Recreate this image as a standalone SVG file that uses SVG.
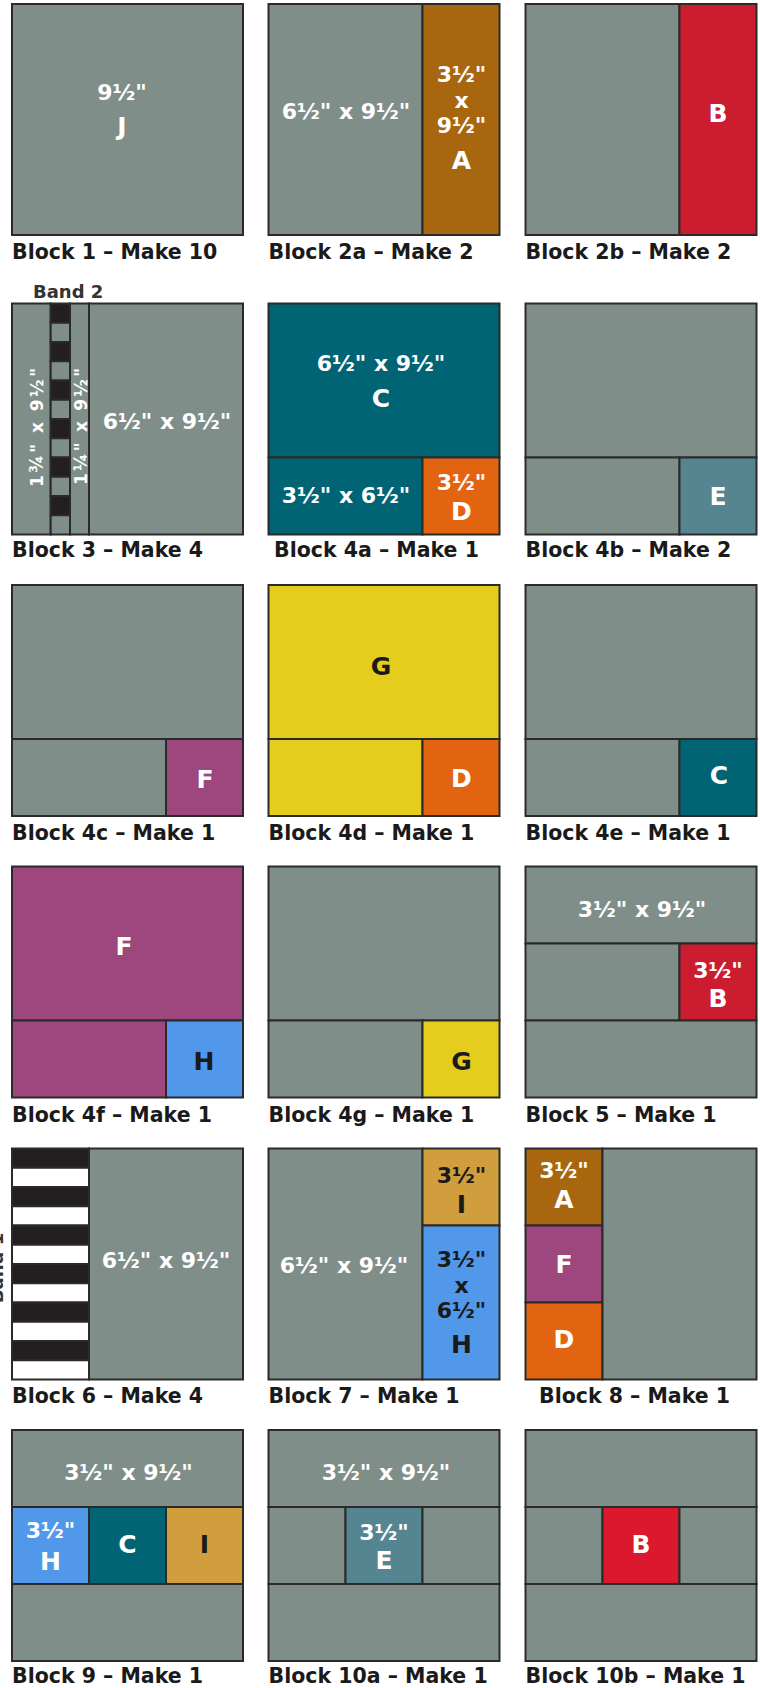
<svg xmlns="http://www.w3.org/2000/svg" width="760" height="1688" viewBox="0 0 760 1688">
<style>
rect{stroke:#2a2a2a;stroke-width:2}
rect.bg{stroke:none;fill:#ffffff}
.g{fill:#808e8a}.a{fill:#a8660f}.b{fill:#cc1c30}.b2{fill:#dc182f}.c{fill:#006474}.d{fill:#e36410}.e{fill:#568592}.f{fill:#9e477e}.y{fill:#e5cd1e}.h{fill:#5197ea}.i{fill:#d09e3d}.k{fill:#231f20}.wh{fill:#ffffff}
text{font-family:"DejaVu Sans","Liberation Sans",sans-serif;font-weight:bold}
.lbl{font-size:20.5px;fill:#1a1a1a}
.t{font-size:22px;fill:#ffffff;text-anchor:middle}
.tk{font-size:22px;fill:#1a1a1a;text-anchor:middle}
.L{font-size:25px;fill:#ffffff;text-anchor:middle}
.Lk{font-size:25px;fill:#1a1a1a;text-anchor:middle}
.r{font-size:17px;fill:#ffffff;text-anchor:middle}
.band{font-size:18px;fill:#333333}
</style>
<defs>
<g id="bandcol">
<rect class="k" x="0" y="0" width="19.3" height="19.25"/><rect class="g" x="0" y="19.25" width="19.3" height="19.25"/>
<rect class="k" x="0" y="38.5" width="19.3" height="19.25"/><rect class="g" x="0" y="57.75" width="19.3" height="19.25"/>
<rect class="k" x="0" y="77" width="19.3" height="19.25"/><rect class="g" x="0" y="96.25" width="19.3" height="19.25"/>
<rect class="k" x="0" y="115.5" width="19.3" height="19.25"/><rect class="g" x="0" y="134.75" width="19.3" height="19.25"/>
<rect class="k" x="0" y="154" width="19.3" height="19.25"/><rect class="g" x="0" y="173.25" width="19.3" height="19.25"/>
<rect class="k" x="0" y="192.5" width="19.3" height="19.25"/><rect class="g" x="0" y="211.75" width="19.3" height="19.25"/>
</g>
<g id="stripes">
<rect class="k" x="0" y="0" width="77" height="19.25"/><rect class="wh" x="0" y="19.25" width="77" height="19.25"/>
<rect class="k" x="0" y="38.5" width="77" height="19.25"/><rect class="wh" x="0" y="57.75" width="77" height="19.25"/>
<rect class="k" x="0" y="77" width="77" height="19.25"/><rect class="wh" x="0" y="96.25" width="77" height="19.25"/>
<rect class="k" x="0" y="115.5" width="77" height="19.25"/><rect class="wh" x="0" y="134.75" width="77" height="19.25"/>
<rect class="k" x="0" y="154" width="77" height="19.25"/><rect class="wh" x="0" y="173.25" width="77" height="19.25"/>
<rect class="k" x="0" y="192.5" width="77" height="19.25"/><rect class="wh" x="0" y="211.75" width="77" height="19.25"/>
</g>
</defs>
<rect class="bg" x="0" y="0" width="760" height="1688"/>

<g id="block1">
<rect class="g" x="12" y="4" width="231" height="231"/>
<text class="t" x="122" y="99.5">9½"</text>
<text class="L" x="122" y="134.5">J</text>
<text class="lbl" x="12" y="259">Block 1 – Make 10</text>
</g>

<g id="block2a">
<rect class="g" x="268.5" y="4" width="154" height="231"/>
<rect class="a" x="422.5" y="4" width="77" height="231"/>
<text class="t" x="346" y="119">6½" x 9½"</text>
<text class="t" x="461.5" y="81.5">3½"</text>
<text class="t" x="461.5" y="108">x</text>
<text class="t" x="461.5" y="133">9½"</text>
<text class="L" x="461.5" y="168.5">A</text>
<text class="lbl" x="268.5" y="259">Block 2a – Make 2</text>
</g>

<g id="block2b">
<rect class="g" x="525.5" y="4" width="154" height="231"/>
<rect class="b" x="679.5" y="4" width="77" height="231"/>
<text class="L" x="718" y="121.5">B</text>
<text class="lbl" x="525.5" y="259">Block 2b – Make 2</text>
</g>

<g id="block3">
<text class="band" x="33" y="298">Band 2</text>
<rect class="g" x="12" y="303.5" width="38.7" height="231"/>
<use href="#bandcol" x="50.7" y="303.5"/>
<rect class="g" x="70" y="303.5" width="19" height="231"/>
<rect class="g" x="89" y="303.5" width="154" height="231"/>
<text class="r" transform="translate(43,427.5) rotate(-90)" textLength="119" lengthAdjust="spacing">1¾" x 9½"</text>
<text class="r" transform="translate(87,426.5) rotate(-90)" textLength="117" lengthAdjust="spacing">1¼" x 9½"</text>
<text class="t" x="167" y="429">6½" x 9½"</text>
<text class="lbl" x="12" y="557">Block 3 – Make 4</text>
</g>

<g id="block4a">
<rect class="c" x="268.5" y="303.5" width="231" height="154"/>
<rect class="c" x="268.5" y="457.5" width="154" height="77"/>
<rect class="d" x="422.5" y="457.5" width="77" height="77"/>
<text class="t" x="381" y="371">6½" x 9½"</text>
<text class="L" x="381" y="406.5">C</text>
<text class="t" x="346" y="503">3½" x 6½"</text>
<text class="t" x="461.5" y="490">3½"</text>
<text class="L" x="461.5" y="520">D</text>
<text class="lbl" x="274" y="557">Block 4a – Make 1</text>
</g>

<g id="block4b">
<rect class="g" x="525.5" y="303.5" width="231" height="154"/>
<rect class="g" x="525.5" y="457.5" width="154" height="77"/>
<rect class="e" x="679.5" y="457.5" width="77" height="77"/>
<text class="L" x="718" y="505">E</text>
<text class="lbl" x="525.5" y="557">Block 4b – Make 2</text>
</g>

<g id="block4c">
<rect class="g" x="12" y="585" width="231" height="154"/>
<rect class="g" x="12" y="739" width="154" height="77"/>
<rect class="f" x="166" y="739" width="77" height="77"/>
<text class="L" x="205" y="788">F</text>
<text class="lbl" x="12" y="840">Block 4c – Make 1</text>
</g>

<g id="block4d">
<rect class="y" x="268.5" y="585" width="231" height="154"/>
<rect class="y" x="268.5" y="739" width="154" height="77"/>
<rect class="d" x="422.5" y="739" width="77" height="77"/>
<text class="Lk" x="381" y="675">G</text>
<text class="L" x="461.5" y="787">D</text>
<text class="lbl" x="268.5" y="840">Block 4d – Make 1</text>
</g>

<g id="block4e">
<rect class="g" x="525.5" y="585" width="231" height="154"/>
<rect class="g" x="525.5" y="739" width="154" height="77"/>
<rect class="c" x="679.5" y="739" width="77" height="77"/>
<text class="L" x="719" y="784">C</text>
<text class="lbl" x="525.5" y="840">Block 4e – Make 1</text>
</g>

<g id="block4f">
<rect class="f" x="12" y="866.5" width="231" height="154"/>
<rect class="f" x="12" y="1020.5" width="154" height="77"/>
<rect class="h" x="166" y="1020.5" width="77" height="77"/>
<text class="L" x="124" y="955">F</text>
<text class="Lk" x="204" y="1070">H</text>
<text class="lbl" x="12" y="1121.5">Block 4f – Make 1</text>
</g>

<g id="block4g">
<rect class="g" x="268.5" y="866.5" width="231" height="154"/>
<rect class="g" x="268.5" y="1020.5" width="154" height="77"/>
<rect class="y" x="422.5" y="1020.5" width="77" height="77"/>
<text class="Lk" x="461.5" y="1070">G</text>
<text class="lbl" x="268.5" y="1121.5">Block 4g – Make 1</text>
</g>

<g id="block5">
<rect class="g" x="525.5" y="866.5" width="231" height="77"/>
<rect class="g" x="525.5" y="943.5" width="154" height="77"/>
<rect class="b" x="679.5" y="943.5" width="77" height="77"/>
<rect class="g" x="525.5" y="1020.5" width="231" height="77"/>
<text class="t" x="642" y="916.5">3½" x 9½"</text>
<text class="t" x="718" y="978">3½"</text>
<text class="L" x="718" y="1006.5">B</text>
<text class="lbl" x="525.5" y="1121.5">Block 5 – Make 1</text>
</g>

<g id="block6">
<text class="band" transform="translate(2.5,1268) rotate(-90)" text-anchor="middle">Band 1</text>
<use href="#stripes" x="12" y="1148.5"/>
<rect class="g" x="89" y="1148.5" width="154" height="231"/>
<text class="t" x="166" y="1268">6½" x 9½"</text>
<text class="lbl" x="12" y="1403">Block 6 – Make 4</text>
</g>

<g id="block7">
<rect class="g" x="268.5" y="1148.5" width="154" height="231"/>
<rect class="i" x="422.5" y="1148.5" width="77" height="77"/>
<rect class="h" x="422.5" y="1225.5" width="77" height="154"/>
<text class="t" x="344" y="1273">6½" x 9½"</text>
<text class="tk" x="461.5" y="1183">3½"</text>
<text class="Lk" x="461.5" y="1213">I</text>
<text class="tk" x="461.5" y="1266.5">3½"</text>
<text class="tk" x="461.5" y="1293">x</text>
<text class="tk" x="461.5" y="1318">6½"</text>
<text class="Lk" x="461.5" y="1353">H</text>
<text class="lbl" x="268.5" y="1403">Block 7 – Make 1</text>
</g>

<g id="block8">
<rect class="a" x="525.5" y="1148.5" width="77" height="77"/>
<rect class="f" x="525.5" y="1225.5" width="77" height="77"/>
<rect class="d" x="525.5" y="1302.5" width="77" height="77"/>
<rect class="g" x="602.5" y="1148.5" width="154" height="231"/>
<text class="t" x="564" y="1178">3½"</text>
<text class="L" x="564" y="1208">A</text>
<text class="L" x="564" y="1273">F</text>
<text class="L" x="564" y="1348">D</text>
<text class="lbl" x="539" y="1403">Block 8 – Make 1</text>
</g>

<g id="block9">
<rect class="g" x="12" y="1430" width="231" height="77"/>
<rect class="h" x="12" y="1507" width="77" height="77"/>
<rect class="c" x="89" y="1507" width="77" height="77"/>
<rect class="i" x="166" y="1507" width="77" height="77"/>
<rect class="g" x="12" y="1584" width="231" height="77"/>
<text class="t" x="128.5" y="1480">3½" x 9½"</text>
<text class="t" x="50.5" y="1538">3½"</text>
<text class="L" x="50.5" y="1570">H</text>
<text class="L" x="127.5" y="1553">C</text>
<text class="Lk" x="204.5" y="1553">I</text>
<text class="lbl" x="12" y="1683">Block 9 – Make 1</text>
</g>

<g id="block10a">
<rect class="g" x="268.5" y="1430" width="231" height="77"/>
<rect class="g" x="268.5" y="1507" width="77" height="77"/>
<rect class="e" x="345.5" y="1507" width="77" height="77"/>
<rect class="g" x="422.5" y="1507" width="77" height="77"/>
<rect class="g" x="268.5" y="1584" width="231" height="77"/>
<text class="t" x="386" y="1480">3½" x 9½"</text>
<text class="t" x="384" y="1540">3½"</text>
<text class="L" x="384" y="1569">E</text>
<text class="lbl" x="268.5" y="1683">Block 10a – Make 1</text>
</g>

<g id="block10b">
<rect class="g" x="525.5" y="1430" width="231" height="77"/>
<rect class="g" x="525.5" y="1507" width="77" height="77"/>
<rect class="b2" x="602.5" y="1507" width="77" height="77"/>
<rect class="g" x="679.5" y="1507" width="77" height="77"/>
<rect class="g" x="525.5" y="1584" width="231" height="77"/>
<text class="L" x="641" y="1553">B</text>
<text class="lbl" x="525.5" y="1683">Block 10b – Make 1</text>
</g>

<g id="connectors"></g>
</svg>
